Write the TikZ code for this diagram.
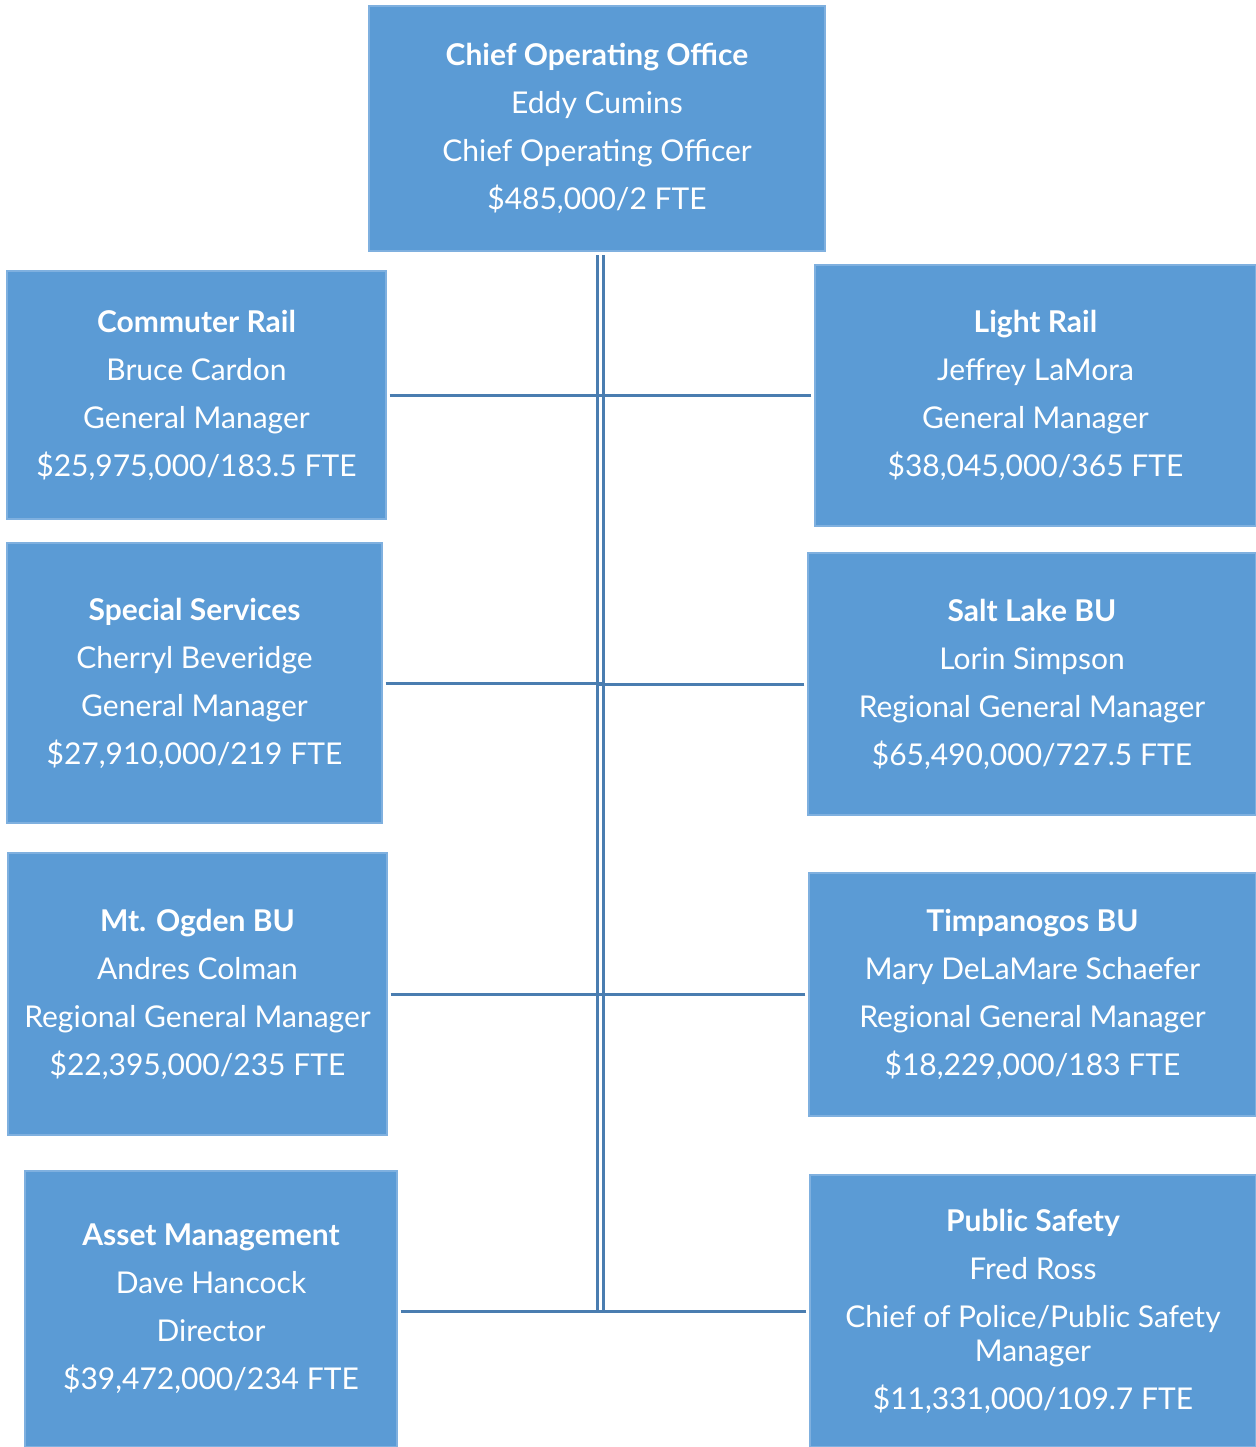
\documentclass[tikz,border=0pt]{standalone}
\usepackage{fontspec}
\setmainfont{Lato}
\definecolor{boxblue}{HTML}{5B9BD5}
\definecolor{boxedge}{HTML}{7FB0DF}
\definecolor{linkblue}{HTML}{4A7DB0}
\begin{document}
\begin{tikzpicture}[x=0.5pt,y=-0.5pt,
  box/.style={draw=boxedge, line width=0.6pt, fill=boxblue, text=white, inner sep=0pt,
    align=center, font=\fontsize{15}{24}\selectfont},
  conn/.style={draw=linkblue, line width=1.5pt}]
\useasboundingbox (0,0) rectangle (1256,1447);

\node[box, minimum width=228pt, minimum height=122.5pt] (coo) at (597,128.5)
  {\textbf{Chief Operating Office}\\Eddy Cumins\\Chief Operating Officer\\\$485,000/2 FTE};
\node[box, minimum width=189.5pt, minimum height=124pt] (cr) at (196.5,395)
  {\textbf{Commuter Rail}\\Bruce Cardon\\General Manager\\\$25,975,000/183.5 FTE};
\node[box, minimum width=220.5pt, minimum height=130.5pt] (lr) at (1035.5,395.5)
  {\textbf{Light Rail}\\Jeffrey LaMora\\General Manager\\\$38,045,000/365 FTE};
\node[box, minimum width=187.5pt, minimum height=140pt] (ss) at (194.5,683)
  {\textbf{Special Services}\\Cherryl Beveridge\\General Manager\\\$27,910,000/219 FTE};
\node[box, minimum width=224pt, minimum height=131pt] (sl) at (1032,684)
  {\textbf{Salt Lake BU}\\Lorin Simpson\\Regional General Manager\\\$65,490,000/727.5 FTE};
\node[box, minimum width=189.5pt, minimum height=141pt] (mo) at (197.5,994)
  {\textbf{Mt. Ogden BU}\\Andres Colman\\Regional General Manager\\\$22,395,000/235 FTE};
\node[box, minimum width=223.5pt, minimum height=121.5pt] (tb) at (1032.5,994.5)
  {\textbf{Timpanogos BU}\\Mary DeLaMare Schaefer\\Regional General Manager\\\$18,229,000/183 FTE};
\node[box, minimum width=186pt, minimum height=138pt] (am) at (211,1309)
  {\textbf{Asset Management}\\Dave Hancock\\Director\\\$39,472,000/234 FTE};
\node[box, minimum width=223pt, minimum height=136pt] (ps) at (1033,1311)
  {\textbf{Public Safety}\\Fred Ross\\Chief of Police/Public Safety\\[-7pt]Manager\\\$11,331,000/109.7 FTE};

\coordinate (spL) at (597,255);
\coordinate (spR) at (603,255);
\coordinate (spLb) at (597,1312);
\coordinate (spRb) at (603,1312);
\draw[conn] (spL) -- (spLb);
\draw[conn] (spR) -- (spRb);

\foreach \l/\r in {cr/lr, ss/sl, mo/tb}{
  \draw[conn] ([xshift=1.5pt]\l.east) -- (\l.east -| spR);
  \draw[conn] ([xshift=-1.5pt]\r.west) -- (\r.west -| spL);
}
\draw[conn] ([xshift=1.5pt,yshift=-1pt]am.east) -- ([yshift=-1pt]am.east -| spR);
\draw[conn] ([xshift=-1.5pt]ps.west) -- (ps.west -| spL);
\end{tikzpicture}
\end{document}
